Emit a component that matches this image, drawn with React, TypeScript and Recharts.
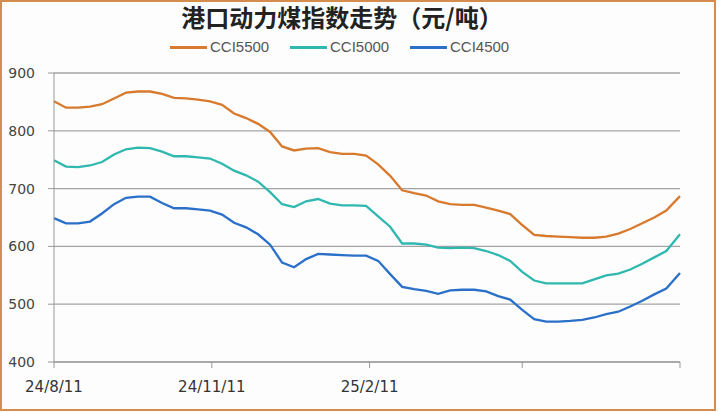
import React from 'react';
import { LineChart, Line, XAxis, YAxis, CartesianGrid } from 'recharts';

// day offsets from 2024-08-11
const days = [0, 7, 14, 21, 28, 35, 42, 49, 56, 63, 70, 77, 84, 91, 98, 105, 112, 119, 126, 133, 140, 147, 154, 161, 168, 175, 182, 189, 196, 203, 210, 217, 224, 231, 238, 245, 252, 259, 266, 273, 280, 287, 294, 301, 308, 315, 322, 329, 336, 343, 350, 357, 365];

const cci5500 = [851, 840, 840, 842, 846, 856, 866, 868, 868, 864, 857, 856, 854, 851, 845, 830, 822, 812, 798, 773, 766, 769, 770, 763, 760, 760, 757, 742, 722, 697, 692, 688, 678, 673, 672, 672, 667, 662, 656, 637, 620, 618, 617, 616, 615, 615, 617, 622, 630, 640, 650, 662, 687];
const cci5000 = [749, 738, 737, 740, 746, 759, 768, 771, 770, 764, 756, 756, 754, 752, 743, 731, 723, 712, 694, 673, 668, 678, 682, 674, 671, 671, 670, 652, 634, 605, 605, 603, 598, 597, 598, 597, 592, 585, 575, 556, 541, 536, 536, 536, 536, 543, 550, 553, 560, 570, 581, 592, 621];
const cci4500 = [649, 640, 640, 643, 657, 673, 684, 686, 686, 675, 666, 666, 664, 662, 655, 641, 633, 621, 603, 572, 564, 578, 587, 586, 585, 584, 584, 575, 552, 530, 526, 523, 518, 524, 525, 525, 522, 514, 508, 490, 474, 470, 470, 471, 473, 477, 483, 487, 496, 506, 517, 527, 554];

const tickDays = [0, 92, 184, 273, 365];
const tickLabels = ['24/8/11', '24/11/11', '25/2/11', '', ''];
const yTicks = [400, 500, 600, 700, 800, 900];

const seriesNames = ['CCI5500', 'CCI5000', 'CCI4500'];
const seriesColors = ['#d87a2e', '#2fb8b0', '#2a70c8'];

const data = days.map((d, i) => ({
  day: d,
  cci5500: cci5500[i],
  cci5000: cci5000[i],
  cci4500: cci4500[i],
}));

const legendLineX = [170, 290, 410];
const legendTextX = [210, 330, 450];

export default function App() {
  return (
    <div style={{ position: 'fixed', left: 0, top: 0, width: 719, height: 412, background: '#fdfdfd', overflow: 'hidden' }}>
      <div
        style={{
          position: 'absolute', left: 0, top: 4, width: 684, textAlign: 'center', whiteSpace: 'nowrap',
          fontFamily: '"Noto Sans CJK SC", sans-serif', fontWeight: 700, fontSize: 24, lineHeight: '26px', color: '#222',
        }}
      >
        港口动力煤指数走势（元/吨）
      </div>
      {seriesNames.map((n, i) => (
        <React.Fragment key={n}>
          <div style={{ position: 'absolute', left: legendLineX[i], top: 46, width: 37, height: 3, background: seriesColors[i] }} />
          <div
            style={{
              position: 'absolute', left: legendTextX[i], top: 38, fontFamily: '"Liberation Sans", sans-serif',
              fontSize: 15, lineHeight: '18px', color: '#555',
            }}
          >
            {n}
          </div>
        </React.Fragment>
      ))}
      <div style={{ position: 'absolute', left: 0, top: 0 }}>
        <LineChart width={719} height={412} data={data} margin={{ top: 73, right: 39, bottom: 20, left: 0 }}>
          <CartesianGrid vertical={false} stroke="#a3a3a3" strokeWidth={1.3} />
          <XAxis
            dataKey="day"
            type="number"
            domain={[0, 365]}
            ticks={tickDays}
            tickFormatter={(v: number) => tickLabels[tickDays.indexOf(v)] ?? ''}
            height={30}
            tickSize={6}
            tickMargin={13}
            interval={0}
            stroke="#999"
            tick={{ fill: '#333', fontSize: 15, fontFamily: '"DejaVu Sans", sans-serif' }}
          />
          <YAxis
            domain={[400, 900]}
            ticks={yTicks}
            width={54}
            tickSize={6}
            tickMargin={13}
            interval={0}
            stroke="#999"
            tick={{ fill: '#444', fontSize: 14, fontFamily: '"DejaVu Sans", sans-serif' }}
          />
          <Line dataKey="cci5500" stroke={seriesColors[0]} strokeWidth={2.3} dot={false} isAnimationActive={false} type="linear" />
          <Line dataKey="cci5000" stroke={seriesColors[1]} strokeWidth={2.3} dot={false} isAnimationActive={false} type="linear" />
          <Line dataKey="cci4500" stroke={seriesColors[2]} strokeWidth={2.3} dot={false} isAnimationActive={false} type="linear" />
        </LineChart>
      </div>
      <div style={{ position: 'absolute', left: 0, top: 0, width: 716, height: 411, boxSizing: 'border-box', border: '2px solid #d58d4f', pointerEvents: 'none' }} />
    </div>
  );
}
